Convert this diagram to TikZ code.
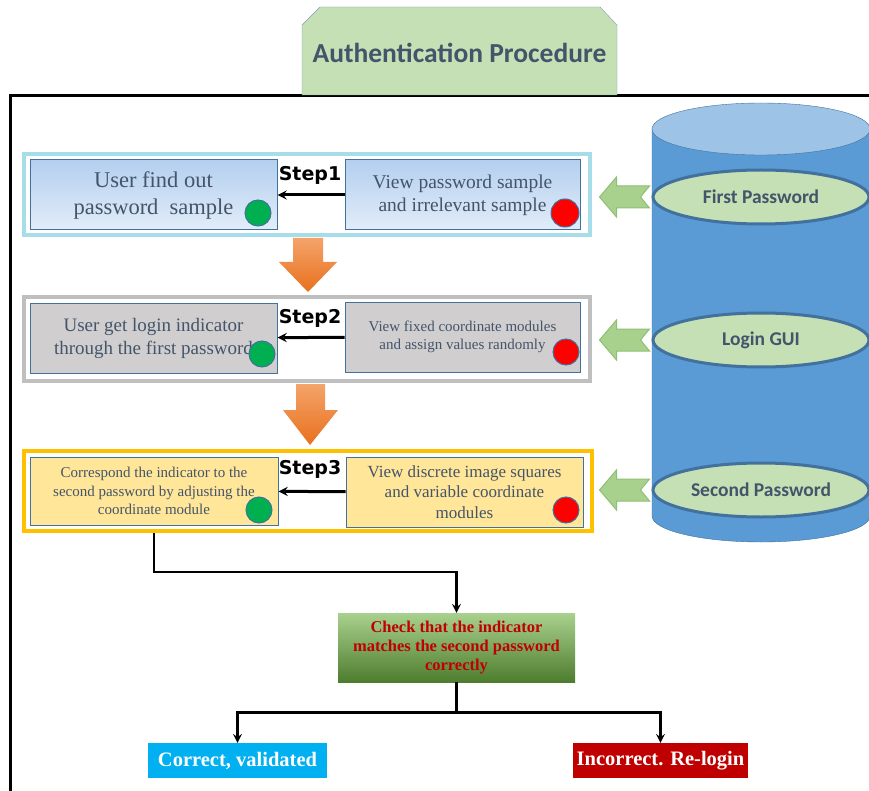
\documentclass[tikz,border=0pt]{standalone}
\usepackage{fontspec}
\setmainfont{Liberation Serif}
\newfontfamily\calibri{Carlito}
\newfontfamily\dejavu{DejaVu Sans}
\usepackage{tikz}
\usetikzlibrary{arrows,calc,shapes.geometric}
\usepackage{color}
\definecolor{titlegreen}{HTML}{C5E0B4}
\definecolor{titleedge}{HTML}{7F9DB9}
\definecolor{slate}{HTML}{44546A}
\definecolor{edgeblue}{HTML}{41719C}
\definecolor{cylblue}{HTML}{5B9BD5}
\definecolor{cyltop}{HTML}{9DC3E6}
\definecolor{arrgreen}{HTML}{A9D18E}
\definecolor{arredge}{HTML}{8FBF73}
\definecolor{stepcyan}{HTML}{A6DDE8}
\definecolor{stepgrey}{HTML}{BFBFBF}
\definecolor{stepgold}{HTML}{FFC000}
\definecolor{panelblue}{HTML}{B4CFEF}
\definecolor{panelpale}{HTML}{E2EDF8}
\definecolor{panelgrey}{HTML}{D0CECE}
\definecolor{panelyellow}{HTML}{FFE699}
\definecolor{orangelight}{HTML}{F4A46A}
\definecolor{orangedark}{HTML}{E8701E}
\definecolor{checktop}{HTML}{A9D18E}
\definecolor{checkbottom}{HTML}{4E7D2E}
\definecolor{darkred}{HTML}{C00000}
\definecolor{okblue}{HTML}{00B0F0}
\definecolor{okgreen}{HTML}{00B050}
\definecolor{badred}{HTML}{FF0000}

\begin{document}
\begin{tikzpicture}
      [x = 1pt, y = -1pt,
      frame/.style = {line width = 3},
      titleshape/.style = {draw = titleedge, fill = titlegreen},
      titletext/.style = {
         text = slate,
         font = \calibri\bfseries\fontsize{27.5}{30}\selectfont
      },
      layer/.style = {
         draw = edgeblue,
         fill = titlegreen,
         ellipse,
         line width = 3,
         minimum width = 216,
         minimum height = 54,
         text = slate,
         font = \calibri\bfseries\fontsize{19.5}{22}\selectfont
      },
      blockarr/.style = {draw = arredge, fill = arrgreen, line width = 1},
      outer/.style = {draw, line width = 4, minimum width = 566},
      panel/.style = {
         draw = edgeblue,
         line width = 1,
         align = center,
         text = slate,
         minimum height = 70
      },
      steplabel/.style = {font = \dejavu\bfseries\fontsize{19}{22}\selectfont},
      dot/.style = {
         draw = edgeblue,
         circle,
         line width = 1,
         inner sep = 0pt,
         minimum size = 26
      },
      conn/.style = {-stealth, line width = 3},
      flow/.style = {-stealth, line width = 2.8},
      fatarrow/.style = {top color = orangelight, bottom color = orangedark},
      result/.style = {
         text = white,
         minimum height = 35,
         font = \bfseries\fontsize{20.5}{24}\selectfont
      }]

      \useasboundingbox (0, 0) rectangle (869, 791);
      \fill[white] (0, 0) rectangle (869, 791);
      \clip (0, 0) rectangle (869, 791);

      \draw[frame] (10, 800) -- (10, 96) -- (880, 96);
      \filldraw[titleshape] (302, 95) -- (302, 25) -- (320, 7) -- (600, 7)
         -- (617, 25) -- (617, 95) -- cycle;
      \node[titletext] (title) at (459.5, 53) {Authentication Procedure};

      \filldraw[fill = cylblue, draw = edgeblue] (652, 129) -- (652, 516)
         arc[start angle = 180, end angle = 0, x radius = 109, y radius = 26]
         -- (870, 129);
      \filldraw[fill = cyltop, draw = edgeblue] (761, 129) ellipse [x radius = 109, y radius = 26];

      \node[layer] (pw1) at (761, 197) {First Password};
      \node[layer] (gui) at (761, 340) {Login GUI};
      \node[layer] (pw2) at (761, 490) {Second Password};

      \foreach \e in {pw1, gui, pw2}
         \draw[blockarr] ($(\e.west) + (-52, 0)$) -- ++(17, -20) -- ++(0, 9) -- ++(33, 0)
            -- ++(-9, 11) -- ++(9, 11) -- ++(-33, 0) -- ++(0, 9) -- cycle;

      \node[outer, draw = stepcyan, minimum height = 81] (box1) at (307, 194.5) {};
      \node[outer, draw = stepgrey, minimum height = 84] (box2) at (307, 339) {};
      \node[outer, draw = stepgold, minimum height = 80, minimum width = 568] (box3) at (308, 491) {};

      \node[panel, top color = panelblue, bottom color = panelpale, minimum width = 247,
         font = \fontsize{22.5}{27}\selectfont] (find1) at (153.5, 195)
         {User find out\\password \ sample};
      \node[panel, top color = panelblue, bottom color = panelpale, minimum width = 235,
         font = \fontsize{19.5}{23}\selectfont] (view1) at (462.5, 195)
         {View password sample\\and irrelevant sample};

      \node[panel, fill = panelgrey, minimum width = 247,
         font = \fontsize{19}{23}\selectfont] (find2) at (153.5, 338)
         {User get login indicator\\through the first password};
      \node[panel, fill = panelgrey, minimum width = 235,
         font = \fontsize{15}{17.5}\selectfont] (view2) at (462.5, 337)
         {View fixed coordinate modules\\and assign values randomly};

      \node[panel, fill = panelyellow, minimum width = 248, minimum height = 68,
         font = \fontsize{15}{18.5}\selectfont] (find3) at (154, 491)
         {Correspond the indicator to the\\second password by adjusting the\\coordinate module};
      \node[panel, fill = panelyellow, minimum width = 237,
         font = \fontsize{17}{20.5}\selectfont] (view3) at (464.5, 492)
         {View discrete image squares\\and variable coordinate\\modules};

      \node[dot, fill = okgreen] (g1) at (258, 213) {};
      \node[dot, fill = badred, minimum size = 28] (r1) at (565, 213) {};
      \node[dot, fill = okgreen] (g2) at (262, 354) {};
      \node[dot, fill = badred] (r2) at (566, 352) {};
      \node[dot, fill = okgreen] (g3) at (259, 510) {};
      \node[dot, fill = badred] (r3) at (566, 510) {};

      \draw[conn] (view1) -- (find1);
      \draw[conn] (view2) -- (find2);
      \draw[conn] (view3) -- (find3);
      \node[steplabel] (s1) at (310, 175) {Step1};
      \node[steplabel] (s2) at (310, 318) {Step2};
      \node[steplabel] (s3) at (310, 469) {Step3};

      \shade[fatarrow] (293, 238) -- (323, 238) -- (323, 262) -- (337, 262)
         -- (308, 292) -- (279, 262) -- (293, 262) -- cycle;
      \shade[fatarrow] (296, 384) -- (325, 384) -- (325, 410) -- (338, 410)
         -- (310, 445) -- (283, 410) -- (296, 410) -- cycle;

      \node[top color = checktop, bottom color = checkbottom, text = darkred, align = center,
         minimum width = 237, minimum height = 69,
         font = \bfseries\fontsize{16.5}{19}\selectfont] (check) at (456.5, 647.5)
         {Check that the indicator\\matches the second password\\correctly};
      \node[result, fill = okblue, minimum width = 179] (ok) at (237.5, 760.5) {Correct, validated};
      \node[result, fill = darkred, minimum width = 175] (bad) at (660.5, 760.5) {Incorrect. Re-login};

      \draw[flow] (box3.south -| find3.south) -- ++(0, 39) -| (check.north);
      \draw[flow] (check.south) -- ++(0, 30) -| (ok.north);
      \draw[flow] (check.south) -- ++(0, 30) -| (bad.north);

   \end{tikzpicture}
\end{document}
